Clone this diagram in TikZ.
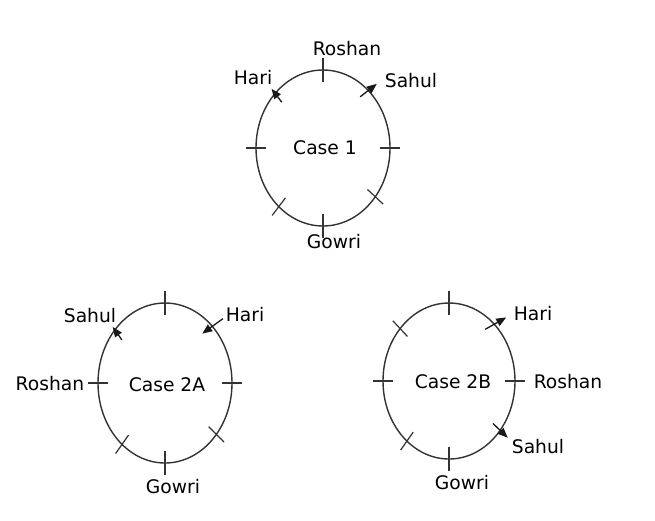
\documentclass[tikz,border=0pt]{standalone}
\usepackage{fontspec}
\setmainfont{DejaVu Sans}
\usetikzlibrary{shapes.geometric,calc,arrows.meta}
\begin{document}
\begin{tikzpicture}[x=1pt,y=-1pt,
  every node/.style={font=\fontsize{18.7}{22}\selectfont, inner sep=0pt, text=black},
  ring/.style={draw=black!80, line width=1.4pt, ellipse, inner sep=0pt, outer sep=0pt},
  tk/.style={draw=black!80, line width=1.2pt},
  arr/.style={draw=black!90, line width=1.3pt, -{Triangle[length=10pt,width=8pt]}},
  lbl/.style={}]
\useasboundingbox (0,0) rectangle (655,520);
% Case 1
\node[ring, minimum width=134pt, minimum height=156pt] (e1) at (323,148) {};
\node[lbl] (c1t) at (325,148) {Case 1};
\foreach \a in {90,180,0,270,-43,233.5}
  \draw[tk] ($(e1.center)!0.85!(e1.\a)$) -- ($(e1.center)!1.15!(e1.\a)$);
\coordinate (h1s) at ($(e1.center)!0.85!(e1.132)$);
\coordinate (h1e) at ($(e1.center)!1.08!(e1.131)$);
\draw[arr] (h1s) -- (h1e);
\coordinate (s1s) at ($(e1.center)!0.86!(e1.54)$);
\coordinate (s1e) at ($(e1.center)!1.15!(e1.50)$);
\draw[arr] (s1s) -- (s1e);
\node[lbl] (r1) at (347,49) {Roshan};
\node[lbl] (ha1) at (253,78) {Hari};
\node[lbl] (sa1) at (411,81) {Sahul};
\node[lbl] (g1) at (334,242) {Gowri};
% Case 2A
\node[ring, minimum width=134pt, minimum height=160pt] (e2) at (165,383) {};
\node[lbl] (c2t) at (167,385) {Case 2A};
\foreach \a in {90,180,0,270,-45.6,235}
  \draw[tk] ($(e2.center)!0.85!(e2.\a)$) -- ($(e2.center)!1.15!(e2.\a)$);
\coordinate (s2s) at ($(e2.center)!0.84!(e2.135)$);
\coordinate (s2e) at ($(e2.center)!1.05!(e2.133)$);
\draw[arr] (s2s) -- (s2e);
\coordinate (h2s) at ($(e2.center)!1.18!(e2.48)$);
\coordinate (h2e) at ($(e2.center)!0.83!(e2.53)$);
\draw[arr] (h2s) -- (h2e);
\node[lbl] (sa2) at (90,316) {Sahul};
\node[lbl] (ha2) at (245,315) {Hari};
\node[lbl] (r2) at (50,384) {Roshan};
\node[lbl] (g2) at (173,487) {Gowri};
% Case 2B
\node[ring, minimum width=132pt, minimum height=156pt] (e3) at (449,381) {};
\node[lbl] (c3t) at (453,382) {Case 2B};
\foreach \a in {90,180,0,270,133,235.5}
  \draw[tk] ($(e3.center)!0.85!(e3.\a)$) -- ($(e3.center)!1.15!(e3.\a)$);
\coordinate (h3s) at ($(e3.center)!0.86!(e3.55)$);
\coordinate (h3e) at ($(e3.center)!1.19!(e3.48)$);
\draw[arr] (h3s) -- (h3e);
\coordinate (s3s) at ($(e3.center)!0.86!(e3.-44)$);
\coordinate (s3e) at ($(e3.center)!1.15!(e3.-44)$);
\draw[arr] (s3s) -- (s3e);
\node[lbl] (ha3) at (533,314) {Hari};
\node[lbl] (r3) at (568,382) {Roshan};
\node[lbl] (sa3) at (538,447) {Sahul};
\node[lbl] (g3) at (462,483) {Gowri};
\end{tikzpicture}
\end{document}
